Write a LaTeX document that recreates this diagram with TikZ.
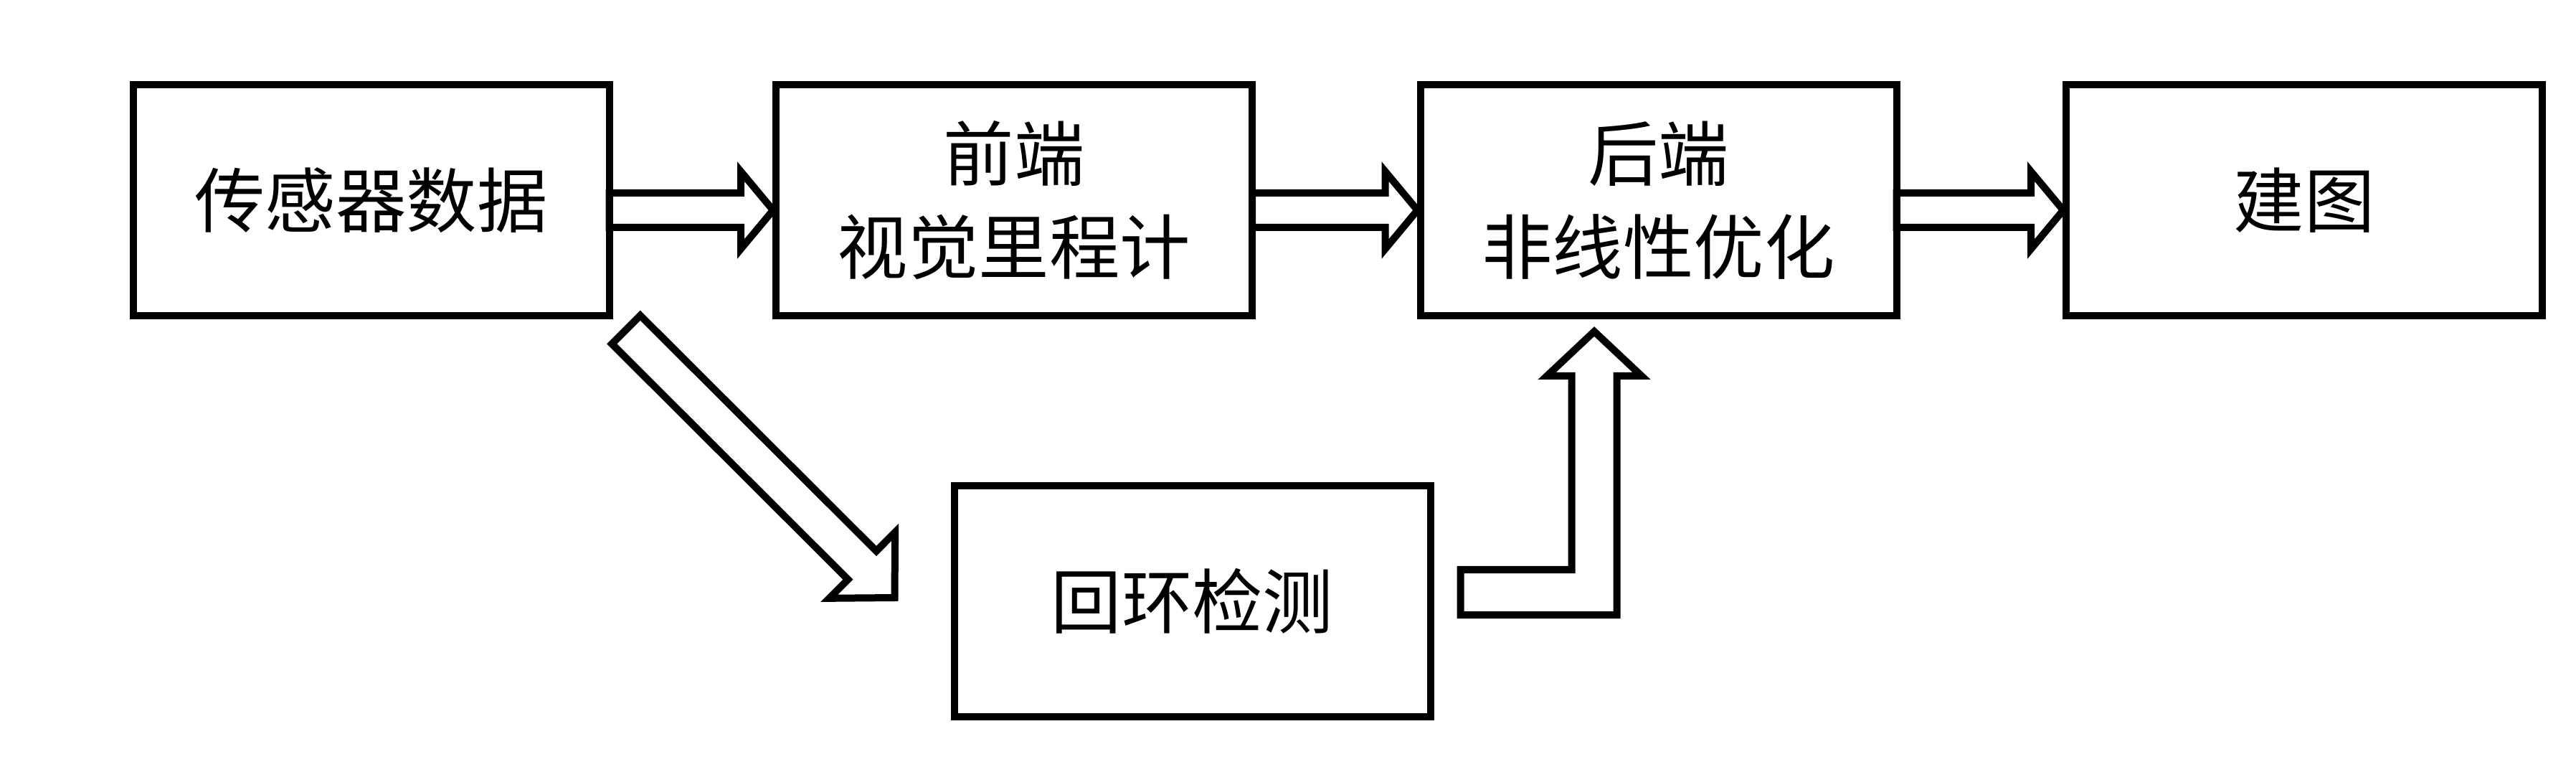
\documentclass[tikz,border=0pt]{standalone}
\usepackage{fontspec}
\newfontfamily\cjk{Noto Sans CJK SC}
\usepackage{tikz}
\usetikzlibrary{calc}

% hollow block arrow: tail, tip, shaft half width, head length, head half width
\newcommand{\blockarrow}[5]{%
\coordinate (ahead) at ($(#2)!#4!(#1)$);
\draw[flow] ($(#1)!#3!90:(#2)$) -- ($(ahead)!#3!90:(#2)$) -- ($(ahead)!#5!90:(#2)$) -- (#2)
  -- ($(ahead)!#5!-90:(#2)$) -- ($(ahead)!#3!-90:(#2)$) -- ($(#1)!#3!-90:(#2)$) -- cycle;}

\begin{document}
\begin{tikzpicture}[
box/.style={draw, line width=0.1cm, minimum width=6.64cm, minimum height=3.22cm,
  inner sep=0pt, outer sep=0pt, align=center, font={\cjk\fontsize{28}{37}\selectfont}},
flow/.style={draw, line width=0.1cm, line join=miter}]
\useasboundingbox (0,0) rectangle (35.92,-10.69);
\node[box] (sensor) at (5.175,-2.79) {传感器数据};
\node[box] (front) at (14.14,-2.79) {前端\\视觉里程计};
\node[box] (back) at (23.125,-2.79) {后端\\非线性优化};
\node[box] (map) at (32.13,-2.79) {建图};
\node[box] (loop) at (16.625,-8.38) {回环检测};

\coordinate (t1) at ($(sensor.east)+(0,-0.14)$);
\coordinate (h1) at ($(front.west)+(-0.04,-0.14)$);
\coordinate (t2) at ($(front.east)+(0,-0.14)$);
\coordinate (h2) at ($(back.west)+(-0.04,-0.14)$);
\coordinate (t3) at ($(back.east)+(0,-0.14)$);
\coordinate (h3) at ($(map.west)+(-0.04,-0.14)$);
\blockarrow{t1}{h1}{0.24cm}{0.45cm}{0.54cm}
\blockarrow{t2}{h2}{0.24cm}{0.45cm}{0.54cm}
\blockarrow{t3}{h3}{0.24cm}{0.45cm}{0.54cm}

% sensor data to loop closure
\coordinate (dtail) at ($(sensor.south east)+(0.235,-0.195)$);
\coordinate (dtip) at ($(loop.west)+(-0.83,0.05)$);
\blockarrow{dtail}{dtip}{0.28cm}{0.64cm}{0.65cm}

% loop closure to back end
\coordinate (lt) at ($(loop.east)+(0.42,0.125)$);
\coordinate (bt) at ($(back.south)+(-0.895,-0.22)$);
\draw[flow] ($(lt)+(0,0.315)$) -| ($(bt)+(-0.315,-0.62)$) -- ++(-0.345,0) -- (bt)
  -- ($(bt)+(0.66,-0.62)$) -- ++(-0.345,0) |- ($(lt)+(0,-0.315)$) -- cycle;
\end{tikzpicture}
\end{document}
